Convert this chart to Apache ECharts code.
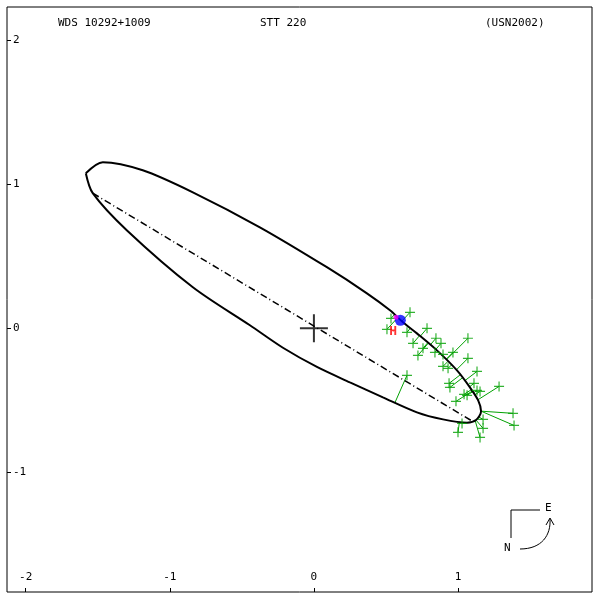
<!DOCTYPE html><html><head><meta charset="utf-8">
<script src="https://cdn.jsdelivr.net/npm/echarts@6/dist/echarts.min.js"></script>
<style>body{margin:0}#c{width:600px;height:600px}</style></head><body><div id="c"></div>
<script>
const tickValues=[-2,-1,0,1];
const yTickValues=[-1,0,1,2];
const orbitX=[-1.583,-1.465,-1.188,-0.840,-0.375,0.090,0.368,0.528,0.618,0.715,0.854,0.993,1.083,1.140,1.160,1.125,1.063,0.896,0.715,0.479,0.250,0.021,-0.215,-0.444,-0.840,-1.299,-1.535,-1.583];
const orbitY=[1.076,1.153,1.097,0.944,0.701,0.424,0.243,0.125,0.042,-0.035,-0.153,-0.292,-0.410,-0.500,-0.575,-0.637,-0.655,-0.632,-0.583,-0.479,-0.375,-0.268,-0.135,0.021,0.285,0.681,0.938,1.076];
const apsidesX=[-1.535,1.10];
const apsidesY=[0.938,-0.645];
const obsX=[0.667,0.507,0.646,0.785,0.688,0.847,1.069,0.757,0.882,0.722,0.840,0.965,0.896,1.069,0.896,0.931,1.132,0.646,0.938,0.944,1.111,1.285,1.042,1.063,0.986,1.132,1.153,1.382,1.389,1.174,1.174,1.000,1.153,1.028,0.535];
const obsY=[0.111,-0.007,-0.028,0.000,-0.104,-0.069,-0.069,-0.139,-0.104,-0.188,-0.167,-0.167,-0.181,-0.208,-0.264,-0.278,-0.299,-0.326,-0.382,-0.410,-0.382,-0.403,-0.458,-0.465,-0.507,-0.431,-0.438,-0.590,-0.674,-0.632,-0.694,-0.722,-0.757,-0.660,0.069];
const blueDot=[0.60,0.056];
const hMark=[0.55,-0.02];
const titles=["WDS 10292+1009","STT 220","(USN2002)"];

function nearest(px,py){let best=null,bd=1e9;for(let i=0;i<orbitX.length-1;i++){const ax=orbitX[i],ay=orbitY[i],bx=orbitX[i+1],by=orbitY[i+1];const dx=bx-ax,dy=by-ay;let t=((px-ax)*dx+(py-ay)*dy)/(dx*dx+dy*dy);t=Math.max(0,Math.min(1,t));const qx=ax+t*dx,qy=ay+t*dy;const d=(qx-px)**2+(qy-py)**2;if(d<bd){bd=d;best=[qx,qy];}}return best;}
const resid=[];obsX.forEach((x,i)=>{const q=nearest(x,obsY[i]);resid.push([x,obsY[i]],q,[null,null]);});

const font='"DejaVu Sans Mono", monospace';
const chart=echarts.init(document.getElementById('c'));
chart.setOption({animation:false,
grid:{left:7,right:8,top:7,bottom:8,show:true,borderColor:'#000',borderWidth:1},
xAxis:{type:'value',min:-2.13,max:1.93,axisLine:{show:false,onZero:false},splitLine:{show:false},
 axisTick:{inside:true,length:4,customValues:tickValues,lineStyle:{color:'#000'}},
 axisLabel:{inside:true,customValues:tickValues,color:'#000',fontFamily:font,fontSize:11,margin:9}},
yAxis:{type:'value',min:-1.83,max:2.23,axisLine:{show:false,onZero:false},splitLine:{show:false},
 axisTick:{inside:true,length:4,customValues:yTickValues,lineStyle:{color:'#000'}},
 axisLabel:{inside:true,customValues:yTickValues,color:'#000',fontFamily:font,fontSize:11,margin:6}},
series:[
{type:'line',data:resid,symbol:'none',connectNulls:false,lineStyle:{color:'#00a000',width:1},z:2},
{type:'line',data:orbitX.map((x,i)=>[x,orbitY[i]]),smooth:0.3,symbol:'none',lineStyle:{color:'#000',width:2},z:3},
{type:'line',data:apsidesX.map((x,i)=>[x,apsidesY[i]]),symbol:'none',lineStyle:{color:'#000',width:1.5,type:[7,3,1,3]},z:3},
{type:'scatter',data:obsX.map((x,i)=>[x,obsY[i]]),symbol:'path://M5,0L5,10M0,5L10,5',symbolSize:10,itemStyle:{color:'none',borderColor:'#00a000',borderWidth:1.2},z:4},
{type:'scatter',data:[[0,0]],symbol:'path://M14,0L14,28M0,14L28,14',symbolSize:28,itemStyle:{color:'none',borderColor:'#000',borderWidth:2},z:5},
{type:'scatter',data:[blueDot],symbolSize:11,itemStyle:{color:'#0000ff'},z:6},
{type:'scatter',data:[[blueDot[0]-0.03,blueDot[1]+0.02]],symbolSize:5,itemStyle:{color:'#ff00ff'},z:7},
{type:'scatter',data:[hMark],symbolSize:1,itemStyle:{color:'red'},label:{show:true,formatter:'H',position:'inside',color:'#ff0000',fontWeight:'bold',fontFamily:font,fontSize:13},z:6}
],
graphic:[
{type:'text',left:58,top:18,style:{text:titles[0],font:'11px '+font,fill:'#000'}},
{type:'text',left:260,top:18,style:{text:titles[1],font:'11px '+font,fill:'#000'}},
{type:'text',left:485,top:18,style:{text:titles[2],font:'11px '+font,fill:'#000'}},
{type:'polyline',shape:{points:[[511,538],[511,510],[540,510]]},style:{stroke:'#000',lineWidth:1,fill:null}},
{type:'text',x:545,y:503,style:{text:'E',font:'11px '+font,fill:'#000'}},
{type:'text',x:504,y:543,style:{text:'N',font:'11px '+font,fill:'#000'}},
{type:'bezierCurve',shape:{x1:520,y1:549,x2:550,y2:519,cpx1:542,cpy1:549,cpx2:551,cpy2:535},style:{stroke:'#000',lineWidth:1,fill:null}},
{type:'polyline',shape:{points:[[546,525],[550,518],[554,525]]},style:{stroke:'#000',lineWidth:1,fill:null}}
]});
</script></body></html>
